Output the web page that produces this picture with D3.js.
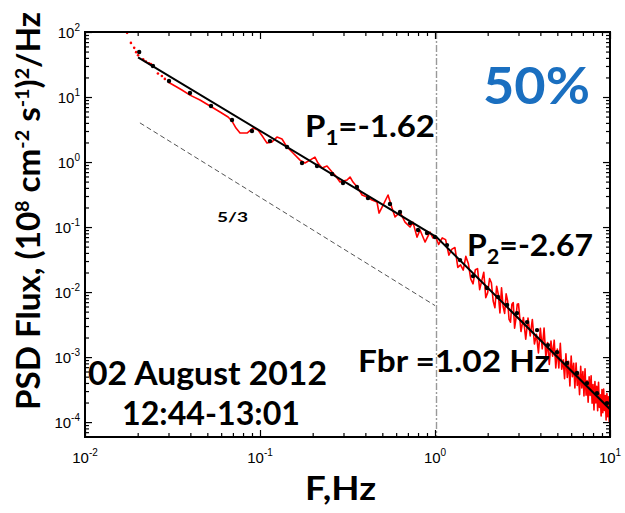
<!DOCTYPE html>
<html>
<head>
<meta charset="utf-8">
<script src="https://cdn.jsdelivr.net/npm/d3@7/dist/d3.min.js"></script>
<style>
  body { margin: 0; background: #fff; }
  svg { display: block; }
</style>
</head>
<body>
<svg id="chart" width="625" height="513"></svg>
<script>
// ---- Data -------------------------------------------------------------
// Lowest-frequency spectral estimates (shown as separate points)
const freqLow = [0.0174, 0.0183, 0.0191, 0.0196, 0.0201, 0.0215, 0.0223, 0.0232, 0.0238, 0.0245, 0.0261, 0.0275, 0.0286];
const psdLow  = [97, 68, 57, 49, 44, 38, 35, 33, 32, 30, 23, 21, 19];

// Power spectral density of the ion flux, F in Hz
const freqSpec = [
  0.0298, 0.0327, 0.0358, 0.0398, 0.0454, 0.0518, 0.0591, 0.0657, 0.0692, 0.0729,
  0.0769, 0.0843, 0.0912, 0.0974, 0.104, 0.1096, 0.117, 0.125, 0.1336, 0.1427,
  0.1544, 0.1693, 0.1807, 0.193, 0.206, 0.2145, 0.226, 0.2415, 0.258, 0.268,
  0.2865, 0.314, 0.327, 0.340, 0.363, 0.383, 0.409, 0.4365, 0.466, 0.479,
  0.505, 0.539, 0.568, 0.591, 0.631, 0.674, 0.720, 0.748, 0.789, 0.821,
  0.877, 0.936, 0.974,
  1.0, 1.05, 1.1, 1.15, 1.2, 1.25, 1.3, 1.35, 1.4, 1.45,
  1.5, 1.55, 1.6, 1.65, 1.7, 1.75, 1.8, 1.85, 1.9, 1.95,
  2.0, 2.05, 2.1, 2.15, 2.2, 2.25, 2.3, 2.35, 2.4, 2.45,
  2.5, 2.55, 2.6, 2.65, 2.7, 2.75, 2.8, 2.85, 2.9, 2.95,
  3.0, 3.1, 3.2, 3.3, 3.4, 3.5, 3.6, 3.7, 3.8, 3.9,
  4.0, 4.1, 4.2, 4.3, 4.4, 4.5, 4.6, 4.7, 4.8, 4.9,
  5.0, 5.1, 5.2, 5.3, 5.4, 5.5, 5.6, 5.7, 5.8, 5.9,
  6.0, 6.1, 6.2, 6.3, 6.4, 6.5, 6.6, 6.7, 6.8, 6.9,
  7.0, 7.1, 7.2, 7.3, 7.4, 7.5, 7.6, 7.7, 7.8, 7.9,
  8.0, 8.1, 8.2, 8.3, 8.4, 8.5, 8.6, 8.7, 8.8, 8.9,
  9.0, 9.1, 9.2, 9.3, 9.4, 9.5, 9.6, 9.7, 9.8, 9.9,
  10.0
];
const psdSpec = [
  17.0, 14.8, 12.8, 10.7, 9.0, 7.28, 5.88, 4.92, 4.27, 3.33,
  2.79, 2.79, 3.33, 3.11, 2.42, 1.96, 2.03, 2.42, 2.26, 1.70,
  1.375, 1.07, 0.966, 1.07, 1.19, 0.966, 0.809, 0.867, 0.702, 0.631,
  0.492, 0.528, 0.588, 0.492, 0.398, 0.311, 0.29, 0.26, 0.243, 0.164,
  0.218, 0.311, 0.196, 0.1426, 0.170, 0.119, 0.1, 0.119, 0.070, 0.090,
  0.0588, 0.0838, 0.0678,
  7.4e-2, 5.4e-2, 6.8e-2, 6.4e-2, 3.7e-2, 4.57e-2, 4.84e-2, 2.4e-2, 2.62e-2, 2.18e-2,
  3.54e-2, 2.76e-2, 1.6e-2, 1.34e-2, 2.21e-2, 2.29e-2, 1.09e-2, 1.5e-2, 2.02e-2, 8.2e-3,
  9.8e-3, 1.61e-2, 1.39e-2, 7.3e-3, 5.75e-3, 1.23e-2, 9.2e-3, 4.76e-3, 1.16e-2, 6.0e-3,
  4.7e-3, 9.4e-3, 7.3e-3, 3.79e-3, 3.44e-3, 6.5e-3, 6.9e-3, 2.79e-3, 3.88e-3, 6.5e-3,
  6.6e-3, 2.47e-3, 4.07e-3, 1.88e-3, 3.98e-3, 2.12e-3, 3.79e-3, 1.59e-3, 2.24e-3, 1.16e-3,
  2.76e-3, 1.34e-3, 2.79e-3, 9.95e-4, 1.68e-3, 7.7e-4, 1.77e-3, 1.03e-3, 1.82e-3, 6.8e-4,
  1.33e-3, 6.8e-4, 1.63e-3, 6.5e-4, 9.1e-4, 4.65e-4, 1.12e-3, 4.85e-4, 8.6e-4, 3.6e-4,
  1.04e-3, 4.98e-4, 8.0e-4, 3.35e-4, 8.1e-4, 3.66e-4, 5.5e-4, 2.65e-4, 7.2e-4, 3.34e-4,
  6.0e-4, 2.52e-4, 6.6e-4, 2.59e-4, 4.35e-4, 2.03e-4, 4.98e-4, 2.58e-4, 5.15e-4, 1.96e-4,
  3.78e-4, 1.54e-4, 4.2e-4, 1.97e-4, 3.56e-4, 1.5e-4, 4.11e-4, 1.68e-4, 2.64e-4, 1.24e-4,
  3.17e-4, 1.39e-4, 3.21e-4, 1.51e-4, 2.55e-4, 1.08e-4, 2.76e-4, 1.21e-4, 2.44e-4, 1.0e-4,
  2.08e-4
];

// Bin-averaged spectrum (black points)
const freqBin = [0.0204, 0.02445, 0.0302, 0.0398, 0.0525, 0.0692, 0.090, 0.114, 0.1427, 0.1738,
  0.2117, 0.258, 0.298, 0.358, 0.414, 0.553, 0.631, 0.720, 0.80, 0.90,
  1.0, 1.171, 1.39, 1.649, 1.983, 2.29, 2.58, 2.94, 3.36, 3.83,
  4.42, 4.98, 5.68, 6.48, 7.39, 8.43, 9.61];
const psdBin = [49.2, 30.0, 17.6, 11.5, 7.28, 4.43, 3.0, 2.1, 1.70, 0.966,
  0.867, 0.653, 0.475, 0.412, 0.279, 0.226, 0.170, 0.115, 0.090, 0.0809,
  0.0702, 0.0528, 0.031, 0.0176, 0.01153, 8.38e-3, 6.31e-3, 4.75e-3, 3.45e-3, 2.60e-3,
  1.53e-3, 1.19e-3, 8.09e-4, 5.68e-4, 3.98e-4, 2.79e-4, 1.96e-4];

// Two-slope power-law fit (P1 = -1.62 below the break, P2 = -2.67 above)
const fitFreq = [0.0201, 1.02, 10];
const fitPsd  = [40.7, 0.0702, 1.58e-4];

// Kolmogorov -5/3 reference slope
const refFreq = [0.0206, 1.0];
const refPsd  = [4.0, 6.2e-3];

// Break frequency, Hz
const breakFreq = 1.02;

// Axes
const xDomain = [0.01, 10];
const yDomain = [5.9e-5, 100];
const xMajor = [0.01, 0.1, 1, 10];
const xMajorExp = ["-2", "-1", "0", "1"];
const yMajor = [1e-4, 1e-3, 1e-2, 1e-1, 1, 10, 100];
const yMajorExp = ["-4", "-3", "-2", "-1", "0", "1", "2"];
const minorSteps = [2, 3, 4, 5, 6, 7, 8, 9];

// ---- Layout -----------------------------------------------------------
const svg = d3.select("#chart");
const L = 85, R = 610, T = 32, B = 437;
const x = d3.scaleLog().domain(xDomain).range([L, R]);
const y = d3.scaleLog().domain(yDomain).range([B, T]);

const textFont = "Lato, 'Open Sans', sans-serif";
const tickFont = "'Liberation Sans', Arial, sans-serif";

// clip to the plotting box
svg.append("defs").append("clipPath").attr("id", "box")
  .append("rect").attr("x", L).attr("y", T).attr("width", R - L).attr("height", B - T);
const plot = svg.append("g").attr("clip-path", "url(#box)");

const line = d3.line().x(d => x(d[0])).y(d => y(d[1]));

// -5/3 reference line
plot.append("path")
  .datum(refFreq.map((f, i) => [f, refPsd[i]]))
  .attr("d", line).attr("fill", "none")
  .attr("stroke", "#555").attr("stroke-width", 1).attr("stroke-dasharray", "5,3");

// break frequency marker
plot.append("line")
  .attr("x1", x(breakFreq)).attr("x2", x(breakFreq))
  .attr("y1", T).attr("y2", B)
  .attr("stroke", "#999").attr("stroke-width", 1.4)
  .attr("stroke-dasharray", "7,2,2,2");

// spectrum
plot.append("path")
  .datum(freqSpec.map((f, i) => [f, psdSpec[i]]))
  .attr("d", line).attr("fill", "none")
  .attr("stroke", "#ff0000").attr("stroke-width", 1.6)
  .attr("stroke-linejoin", "round");

plot.selectAll("circle.low")
  .data(freqLow.map((f, i) => [f, psdLow[i]]))
  .join("circle").attr("class", "low")
  .attr("cx", d => x(d[0])).attr("cy", d => y(d[1]))
  .attr("r", 1.3).attr("fill", "#ff0000");

// fit
plot.append("path")
  .datum(fitFreq.map((f, i) => [f, fitPsd[i]]))
  .attr("d", line).attr("fill", "none")
  .attr("stroke", "#000").attr("stroke-width", 2);

plot.selectAll("circle.bin")
  .data(freqBin.map((f, i) => [f, psdBin[i]]))
  .join("circle").attr("class", "bin")
  .attr("cx", d => x(d[0])).attr("cy", d => y(d[1]))
  .attr("r", 2.2).attr("fill", "#000");

// ---- Axes (inward ticks on all four sides) -----------------------------
function minorOf(decades, lo, hi) {
  const out = [];
  decades.forEach(d => minorSteps.forEach(k => {
    const v = k * d;
    if (v > lo && v < hi) out.push(v);
  }));
  return out;
}
const xMinor = minorOf([0.01, 0.1, 1], xDomain[0], xDomain[1]);
const yMinor = minorOf([1e-5, 1e-4, 1e-3, 1e-2, 1e-1, 1, 10], yDomain[0], yDomain[1]);

function ticks(axisFn, scale, values, size, tx, ty) {
  const g = svg.append("g").attr("transform", `translate(${tx},${ty})`)
    .call(axisFn(scale).tickValues(values).tickFormat("")
      .tickSizeInner(-size).tickSizeOuter(0));
  g.select(".domain").remove();
  g.selectAll(".tick line").attr("stroke", "#000").attr("stroke-width", 1.2);
}
ticks(d3.axisBottom, x, xMajor, 7, 0, B);
ticks(d3.axisBottom, x, xMinor, 4, 0, B);
ticks(d3.axisTop, x, xMajor, 7, 0, T);
ticks(d3.axisTop, x, xMinor, 4, 0, T);
ticks(d3.axisLeft, y, yMajor, 7, L, 0);
ticks(d3.axisLeft, y, yMinor, 4, L, 0);
ticks(d3.axisRight, y, yMajor, 7, R, 0);
ticks(d3.axisRight, y, yMinor, 4, R, 0);

svg.append("rect").attr("x", L).attr("y", T).attr("width", R - L).attr("height", B - T)
  .attr("fill", "none").attr("stroke", "#000").attr("stroke-width", 2);

// tick labels, powers of ten
xMajor.forEach((v, i) => {
  const t = svg.append("text").attr("x", x(v)).attr("y", 463)
    .attr("text-anchor", "middle").attr("font-family", tickFont)
    .attr("font-size", 15).attr("fill", "#000");
  t.append("tspan").text("10");
  t.append("tspan").attr("dy", -7).attr("font-size", 10).text(xMajorExp[i]);
});
yMajor.forEach((v, i) => {
  const t = svg.append("text").attr("x", 80).attr("y", y(v) + 6)
    .attr("text-anchor", "end").attr("font-family", tickFont)
    .attr("font-size", 15).attr("fill", "#000");
  t.append("tspan").text("10");
  t.append("tspan").attr("dy", -7).attr("font-size", 10).text(yMajorExp[i]);
});

// ---- Rich text helper (sub/superscripts) --------------------------------
function richText(parts, o) {
  const t = svg.append("text")
    .attr("x", o.x).attr("y", o.y)
    .attr("font-family", textFont).attr("font-weight", 700)
    .attr("font-size", o.size).attr("fill", o.color || "#000")
    .attr("text-anchor", o.anchor || "start");
  if (o.transform) t.attr("transform", o.transform);
  let cur = 0;
  parts.forEach(p => {
    const shift = p.shift || 0;
    const s = t.append("tspan").attr("dy", shift - cur).text(p.text);
    if (p.size) s.attr("font-size", p.size);
    cur = shift;
  });
  if (o.width) t.attr("textLength", o.width).attr("lengthAdjust", "spacingAndGlyphs");
  return t;
}

// axis titles
richText([{ text: "F,Hz" }], { x: 305, y: 500, size: 32, width: 71 });
richText([
  { text: "PSD Flux, (10" },
  { text: "8", size: 19, shift: -11 },
  { text: " cm" },
  { text: "-2", size: 19, shift: -11 },
  { text: " s" },
  { text: "-1", size: 19, shift: -11 },
  { text: ")" },
  { text: "2", size: 19, shift: -11 },
  { text: "/Hz" }
], { x: 0, y: 0, size: 32, width: 398, transform: "translate(40,410) rotate(-90)" });

// annotations
richText([{ text: "50%" }], { x: 483, y: 104, size: 52, width: 107, color: "#1a6fc0" });
richText([{ text: "P" }, { text: "1", size: 21, shift: 8 }, { text: "=-1.62" }],
  { x: 305, y: 137, size: 31, width: 130 });
richText([{ text: "P" }, { text: "2", size: 21, shift: 8 }, { text: "=-2.67" }],
  { x: 467, y: 256, size: 31, width: 126 });
richText([{ text: "5/3" }], { x: 217, y: 222, size: 14, width: 31 });
richText([{ text: "Fbr =1.02 Hz" }], { x: 358, y: 372, size: 31, width: 192 });
richText([{ text: "02 August 2012" }], { x: 88, y: 385, size: 32, width: 239 });
richText([{ text: "12:44-13:01" }], { x: 122, y: 425, size: 32, width: 178 });
</script>
</body>
</html>
